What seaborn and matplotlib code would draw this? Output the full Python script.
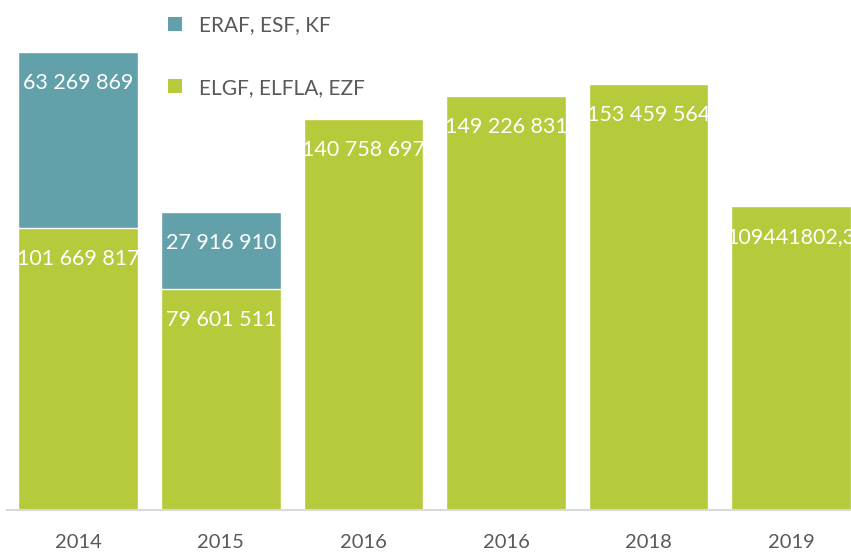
import matplotlib
matplotlib.use("Agg")
import matplotlib.pyplot as plt
from matplotlib.patches import Patch
import seaborn as sns
import pandas as pd

# Funding per year (EUR)
years = ["2014", "2015", "2016", "2016", "2018", "2019"]
elgf_elfla_ezf = [101669817, 79601511, 140758697, 149226831, 153459564, 109441802.3]
eraf_esf_kf = [63269869, 27916910, 0, 0, 0, 0]
series_names = ["ERAF, ESF, KF", "ELGF, ELFLA, EZF"]

TEAL = "#62A0AA"
GREEN = "#B6CA3B"
TEXT_GREY = "#595959"


def fmt(v):
    if float(v).is_integer():
        return f"{int(v):,}".replace(",", " ")
    return f"{v:.1f}".replace(".", ",")


sns.set_theme(style="white")
plt.rcParams["font.family"] = ["Lato", "DejaVu Sans"]

keys = [str(i) for i in range(len(years))]
df = pd.DataFrame({
    "key": keys,
    "green": elgf_elfla_ezf,
    "total": [g + t for g, t in zip(elgf_elfla_ezf, eraf_esf_kf)],
})

fig = plt.figure(figsize=(8.51, 5.53), dpi=100)
ax = fig.add_axes([7 / 851, 43 / 553, (851 - 7) / 851, 510 / 553])

# stacked bars: full height in teal, lower segment in green on top
sns.barplot(data=df, x="key", y="total", order=keys, color=TEAL,
            saturation=1, width=0.84, ax=ax)
sns.barplot(data=df, x="key", y="green", order=keys, color=GREEN,
            saturation=1, width=0.84, ax=ax)

ax.set_xlim(-0.5, 5.42)
ax.set_ylim(0, 183.7e6)

# value labels near the top of each segment
for i, (g, t) in enumerate(zip(elgf_elfla_ezf, eraf_esf_kf)):
    ax.annotate(fmt(g), (i, g), xytext=(0, -31), textcoords="offset pixels",
                ha="center", va="center", color="white", fontsize=15.5)
    if t > 0:
        ax.annotate(fmt(t), (i, g + t), xytext=(0, -31), textcoords="offset pixels",
                    ha="center", va="center", color="white", fontsize=15.5)

ax.set_xticks(range(len(years)))
ax.set_xticklabels(years, color=TEXT_GREY, fontsize=14.5)
ax.tick_params(axis="x", length=0, pad=17)
ax.set_yticks([])
ax.set_xlabel("")
ax.set_ylabel("")
for s in ["top", "left", "right"]:
    ax.spines[s].set_visible(False)
ax.spines["bottom"].set_color("#D9D9D9")
ax.spines["bottom"].set_linewidth(1.5)

handles = [Patch(facecolor=TEAL, edgecolor="none"),
           Patch(facecolor=GREEN, edgecolor="none")]
leg = fig.legend(handles, series_names, loc="upper left",
                 bbox_to_anchor=(168 / 851, 1 - 15 / 553), frameon=False,
                 fontsize=15, handlelength=0.67, handleheight=0.67,
                 handletextpad=0.82, labelspacing=2.05, borderpad=0,
                 borderaxespad=0)
for txt in leg.get_texts():
    txt.set_color(TEXT_GREY)

fig.savefig("out.png", dpi=100)
